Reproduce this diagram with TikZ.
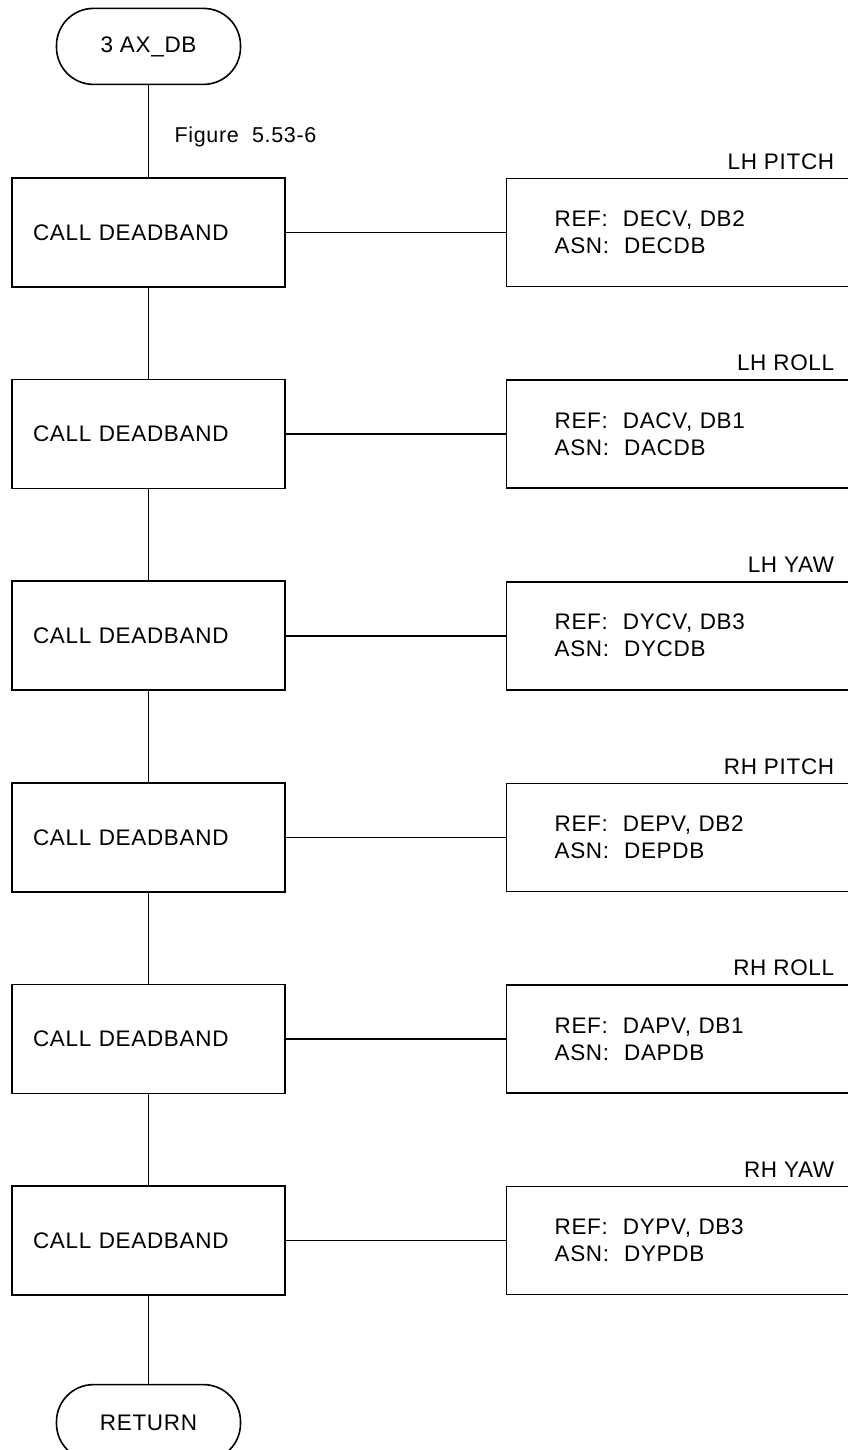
\documentclass[tikz,border=0pt]{standalone}
\usepackage{fontspec}
\setmainfont{Liberation Sans}[LetterSpace=3]
\usepackage{tikz}
\usetikzlibrary{positioning}

\begin{document}
\begin{tikzpicture}[
  x=1pt, y=1pt,
  every node/.style={font=\fontsize{22.5}{27}\selectfont},
  line/.style={line width=1.6pt},
  term/.style={draw, line width=1.6pt, rounded corners=37pt, minimum width=184pt, minimum height=76pt, inner sep=0pt},
  call/.style={draw, line width=1.6pt, text width=231pt, inner xsep=21pt, inner ysep=0pt, minimum height=109pt, align=left},
  ref/.style={draw, line width=1.6pt, text width=246pt, inner xsep=48pt, inner ysep=0pt, minimum height=108pt, align=left},
  axis/.style={anchor=south east, inner sep=0pt}
]
\useasboundingbox (0,0) rectangle (848,-1450);

\node[call] (c1) at (148.5,-232.5) {CALL DEADBAND};
\node[call, below=91pt of c1] (c2) {CALL DEADBAND};
\node[call, below=91pt of c2] (c3) {CALL DEADBAND};
\node[call, below=91pt of c3] (c4) {CALL DEADBAND};
\node[call, below=91pt of c4] (c5) {CALL DEADBAND};
\node[call, below=91pt of c5] (c6) {CALL DEADBAND};

\node[term, above=92pt of c1] (start) {3 AX\_DB};
\node[term, below=88pt of c6] (ret) {RETURN};
\node[anchor=west, inner sep=0pt, font=\fontsize{21.5}{25}\selectfont] (fig) at ([xshift=26pt,yshift=40pt]c1.north) {Figure\ \ 5.53-6};

\node[ref, right=220pt of c1] (r1) {REF:\ \ DECV, DB2\\ASN:\ \ DECDB};
\node[ref, right=220pt of c2] (r2) {REF:\ \ DACV, DB1\\ASN:\ \ DACDB};
\node[ref, right=220pt of c3] (r3) {REF:\ \ DYCV, DB3\\ASN:\ \ DYCDB};
\node[ref, right=220pt of c4] (r4) {REF:\ \ DEPV, DB2\\ASN:\ \ DEPDB};
\node[ref, right=220pt of c5] (r5) {REF:\ \ DAPV, DB1\\ASN:\ \ DAPDB};
\node[ref, right=220pt of c6] (r6) {REF:\ \ DYPV, DB3\\ASN:\ \ DYPDB};

\node[axis] (a1) at ([xshift=-15pt,yshift=8pt]r1.north east) {LH PITCH};
\node[axis] (a2) at ([xshift=-15pt,yshift=8pt]r2.north east) {LH ROLL};
\node[axis] (a3) at ([xshift=-15pt,yshift=8pt]r3.north east) {LH YAW};
\node[axis] (a4) at ([xshift=-15pt,yshift=8pt]r4.north east) {RH PITCH};
\node[axis] (a5) at ([xshift=-15pt,yshift=8pt]r5.north east) {RH ROLL};
\node[axis] (a6) at ([xshift=-15pt,yshift=8pt]r6.north east) {RH YAW};

\draw[line] (start) -- (c1);
\draw[line] (c1) -- (c2);
\draw[line] (c2) -- (c3);
\draw[line] (c3) -- (c4);
\draw[line] (c4) -- (c5);
\draw[line] (c5) -- (c6);
\draw[line] (c6) -- (ret);
\draw[line] (c1) -- (r1);
\draw[line] (c2) -- (r2);
\draw[line] (c3) -- (r3);
\draw[line] (c4) -- (r4);
\draw[line] (c5) -- (r5);
\draw[line] (c6) -- (r6);
\end{tikzpicture}
\end{document}
